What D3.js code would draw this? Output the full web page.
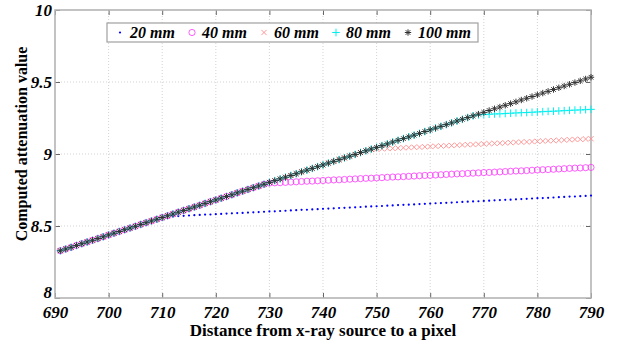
<!DOCTYPE html>
<html>
<head>
    <title>Computed attenuation value</title>
    <script src="https://d3js.org/d3.v7.min.js"></script>
    <style>
        body {
            margin: 0;
            background-color: #ffffff;
        }
        .axis-title {
            font-family: 'Liberation Serif', 'Times New Roman', serif;
            font-weight: bold;
            font-size: 17px;
            fill: #000;
        }
        .legend-text {
            font-family: 'Liberation Serif', 'Times New Roman', serif;
            font-weight: bold;
            font-style: italic;
            font-size: 16px;
            fill: #000;
        }
    </style>
</head>
<body>
    <div id="chart"></div>

    <script>
        // distance from x-ray source (pixel index)
        const distance = [
            691, 692, 693, 694, 695, 696, 697, 698, 699, 700,
            701, 702, 703, 704, 705, 706, 707, 708, 709, 710,
            711, 712, 713, 714, 715, 716, 717, 718, 719, 720,
            721, 722, 723, 724, 725, 726, 727, 728, 729, 730,
            731, 732, 733, 734, 735, 736, 737, 738, 739, 740,
            741, 742, 743, 744, 745, 746, 747, 748, 749, 750,
            751, 752, 753, 754, 755, 756, 757, 758, 759, 760,
            761, 762, 763, 764, 765, 766, 767, 768, 769, 770,
            771, 772, 773, 774, 775, 776, 777, 778, 779, 780,
            781, 782, 783, 784, 785, 786, 787, 788, 789, 790
        ];

        const mm20 = [
            8.328, 8.340, 8.352, 8.365, 8.377, 8.389, 8.401, 8.413, 8.425, 8.438,
            8.450, 8.462, 8.474, 8.486, 8.498, 8.511, 8.523, 8.535, 8.547, 8.559,
            8.566, 8.567, 8.569, 8.571, 8.573, 8.575, 8.577, 8.579, 8.580, 8.582,
            8.584, 8.586, 8.588, 8.590, 8.591, 8.593, 8.595, 8.597, 8.599, 8.601,
            8.602, 8.604, 8.606, 8.608, 8.610, 8.612, 8.613, 8.615, 8.617, 8.619,
            8.621, 8.623, 8.625, 8.626, 8.628, 8.630, 8.632, 8.634, 8.636, 8.637,
            8.639, 8.641, 8.643, 8.645, 8.647, 8.648, 8.650, 8.652, 8.654, 8.656,
            8.658, 8.659, 8.661, 8.663, 8.665, 8.667, 8.669, 8.671, 8.672, 8.674,
            8.676, 8.678, 8.680, 8.682, 8.683, 8.685, 8.687, 8.689, 8.691, 8.693,
            8.694, 8.696, 8.698, 8.700, 8.702, 8.704, 8.705, 8.707, 8.709, 8.711
        ];

        const mm40 = [
            8.328, 8.340, 8.352, 8.365, 8.377, 8.389, 8.401, 8.413, 8.425, 8.438,
            8.450, 8.462, 8.474, 8.486, 8.498, 8.511, 8.523, 8.535, 8.547, 8.559,
            8.571, 8.583, 8.596, 8.608, 8.620, 8.632, 8.644, 8.657, 8.669, 8.681,
            8.693, 8.705, 8.717, 8.730, 8.742, 8.754, 8.766, 8.778, 8.790, 8.798,
            8.800, 8.801, 8.803, 8.805, 8.807, 8.809, 8.811, 8.812, 8.814, 8.816,
            8.818, 8.820, 8.821, 8.823, 8.825, 8.827, 8.829, 8.831, 8.832, 8.834,
            8.836, 8.838, 8.840, 8.841, 8.843, 8.845, 8.847, 8.849, 8.851, 8.852,
            8.854, 8.856, 8.858, 8.860, 8.862, 8.863, 8.865, 8.867, 8.869, 8.871,
            8.872, 8.874, 8.876, 8.878, 8.880, 8.882, 8.883, 8.885, 8.887, 8.889,
            8.891, 8.892, 8.894, 8.896, 8.898, 8.900, 8.902, 8.903, 8.905, 8.907
        ];

        const mm60 = [
            8.328, 8.340, 8.352, 8.365, 8.377, 8.389, 8.401, 8.413, 8.425, 8.438,
            8.450, 8.462, 8.474, 8.486, 8.498, 8.511, 8.523, 8.535, 8.547, 8.559,
            8.571, 8.583, 8.596, 8.608, 8.620, 8.632, 8.644, 8.657, 8.669, 8.681,
            8.693, 8.705, 8.717, 8.730, 8.742, 8.754, 8.766, 8.778, 8.790, 8.803,
            8.815, 8.827, 8.839, 8.851, 8.863, 8.876, 8.888, 8.900, 8.912, 8.924,
            8.937, 8.949, 8.961, 8.973, 8.985, 8.997, 9.010, 9.022, 9.032, 9.034,
            9.036, 9.038, 9.039, 9.041, 9.043, 9.045, 9.047, 9.048, 9.050, 9.052,
            9.054, 9.056, 9.057, 9.059, 9.061, 9.063, 9.065, 9.066, 9.068, 9.070,
            9.072, 9.074, 9.075, 9.077, 9.079, 9.081, 9.083, 9.084, 9.086, 9.088,
            9.090, 9.092, 9.093, 9.095, 9.097, 9.099, 9.101, 9.102, 9.104, 9.106
        ];

        const mm80 = [
            8.328, 8.340, 8.352, 8.365, 8.377, 8.389, 8.401, 8.413, 8.425, 8.438,
            8.450, 8.462, 8.474, 8.486, 8.498, 8.511, 8.523, 8.535, 8.547, 8.559,
            8.571, 8.583, 8.596, 8.608, 8.620, 8.632, 8.644, 8.657, 8.669, 8.681,
            8.693, 8.705, 8.717, 8.730, 8.742, 8.754, 8.766, 8.778, 8.790, 8.803,
            8.815, 8.827, 8.839, 8.851, 8.863, 8.876, 8.888, 8.900, 8.912, 8.924,
            8.937, 8.949, 8.961, 8.973, 8.985, 8.997, 9.010, 9.022, 9.034, 9.046,
            9.058, 9.070, 9.083, 9.095, 9.107, 9.119, 9.131, 9.143, 9.156, 9.168,
            9.180, 9.192, 9.204, 9.216, 9.229, 9.241, 9.253, 9.265, 9.272, 9.274,
            9.276, 9.278, 9.279, 9.281, 9.283, 9.285, 9.287, 9.288, 9.290, 9.292,
            9.294, 9.296, 9.297, 9.299, 9.301, 9.303, 9.305, 9.306, 9.308, 9.310
        ];

        const mm100 = [
            8.328, 8.340, 8.352, 8.365, 8.377, 8.389, 8.401, 8.413, 8.425, 8.438,
            8.450, 8.462, 8.474, 8.486, 8.498, 8.511, 8.523, 8.535, 8.547, 8.559,
            8.571, 8.583, 8.596, 8.608, 8.620, 8.632, 8.644, 8.657, 8.669, 8.681,
            8.693, 8.705, 8.717, 8.730, 8.742, 8.754, 8.766, 8.778, 8.790, 8.803,
            8.815, 8.827, 8.839, 8.851, 8.863, 8.876, 8.888, 8.900, 8.912, 8.924,
            8.937, 8.949, 8.961, 8.973, 8.985, 8.997, 9.010, 9.022, 9.034, 9.046,
            9.058, 9.070, 9.083, 9.095, 9.107, 9.119, 9.131, 9.143, 9.156, 9.168,
            9.180, 9.192, 9.204, 9.216, 9.229, 9.241, 9.253, 9.265, 9.277, 9.289,
            9.302, 9.314, 9.326, 9.338, 9.350, 9.362, 9.375, 9.387, 9.399, 9.411,
            9.423, 9.435, 9.448, 9.460, 9.472, 9.484, 9.496, 9.508, 9.521, 9.533
        ];

        const seriesNames = ["20 mm", "40 mm", "60 mm", "80 mm", "100 mm"];
        const xTicks = [690, 700, 710, 720, 730, 740, 750, 760, 770, 780, 790];
        const yTicks = [8, 8.5, 9, 9.5, 10];

        const xTitle = "Distance from x-ray source to a pixel";
        const yTitle = "Computed attenuation value";

        // marker shapes, drawn around (0,0)
        const markers = {
            dot:    {path: "M-1.1,0a1.1,1.1 0 1,0 2.2,0a1.1,1.1 0 1,0 -2.2,0", fill: "#0000ff", stroke: "none", width: 0},
            circle: {path: "M-3.1,0a3.1,3.1 0 1,0 6.2,0a3.1,3.1 0 1,0 -6.2,0", fill: "none", stroke: "#ff33ff", width: 0.8},
            cross:  {path: "M-2.6,-2.6L2.6,2.6M-2.6,2.6L2.6,-2.6", fill: "none", stroke: "#ff8c8c", width: 0.9},
            plus:   {path: "M-3.8,0H3.8M0,-3.8V3.8", fill: "none", stroke: "#00f0f0", width: 1},
            star:   {path: "M-3.2,0H3.2M0,-3.2V3.2M-2.3,-2.3L2.3,2.3M-2.3,2.3L2.3,-2.3", fill: "none", stroke: "#333333", width: 1}
        };

        const series = [
            {name: seriesNames[0], values: mm20, marker: markers.dot},
            {name: seriesNames[1], values: mm40, marker: markers.circle},
            {name: seriesNames[2], values: mm60, marker: markers.cross},
            {name: seriesNames[3], values: mm80, marker: markers.plus},
            {name: seriesNames[4], values: mm100, marker: markers.star}
        ];

        const margin = {top: 10, right: 31, bottom: 45, left: 55},
            width = 622 - margin.left - margin.right,
            height = 343 - margin.top - margin.bottom;

        const root = d3.select("#chart")
            .append("svg")
                .attr("width", 622)
                .attr("height", 343);

        const svg = root.append("g")
            .attr("transform", "translate(" + margin.left + "," + margin.top + ")");

        const x = d3.scaleLinear()
            .domain([690, 790])
            .range([0, width]);

        const y = d3.scaleLinear()
            .domain([8, 10])
            .range([height, 0]);

        // dotted grid
        svg.append("g").selectAll("line")
            .data(xTicks.slice(1, -1))
            .enter().append("line")
                .attr("x1", d => x(d)).attr("x2", d => x(d))
                .attr("y1", 0).attr("y2", height)
                .attr("stroke", "#c8c8c8")
                .attr("stroke-width", 0.8)
                .attr("stroke-dasharray", "1,2");

        svg.append("g").selectAll("line")
            .data(yTicks.slice(1, -1))
            .enter().append("line")
                .attr("x1", 0).attr("x2", width)
                .attr("y1", d => y(d)).attr("y2", d => y(d))
                .attr("stroke", "#c8c8c8")
                .attr("stroke-width", 0.8)
                .attr("stroke-dasharray", "1,2");

        // axes: labels + inward ticks
        const xAxis = svg.append("g")
            .attr("transform", "translate(0," + height + ")")
            .call(d3.axisBottom(x).tickValues(xTicks).tickSizeInner(-5).tickSizeOuter(0).tickPadding(8).tickFormat(d => d));

        const yAxis = svg.append("g")
            .call(d3.axisLeft(y).tickValues(yTicks).tickSizeInner(-5).tickSizeOuter(0).tickPadding(3).tickFormat(d => d));

        svg.append("g")
            .call(d3.axisTop(x).tickValues(xTicks).tickSizeInner(-5).tickSizeOuter(0).tickFormat(""));

        svg.append("g")
            .attr("transform", "translate(" + width + ",0)")
            .call(d3.axisRight(y).tickValues(yTicks).tickSizeInner(-5).tickSizeOuter(0).tickFormat(""));

        svg.selectAll(".domain").remove();
        svg.selectAll(".tick line").attr("stroke", "#666666");

        [xAxis, yAxis].forEach(function(ax) {
            ax.attr("font-family", null).attr("font-size", null);
            ax.selectAll("text")
                .style("font-family", "'Liberation Serif', 'Times New Roman', serif")
                .style("font-weight", "bold")
                .style("font-style", "italic")
                .style("font-size", "17px")
                .style("fill", "#000");
        });

        // the "8" label sits just above the "690" label, as in the original
        yAxis.selectAll(".tick text").filter(d => d === 8).attr("dy", "-0.02em");

        // box
        svg.append("rect")
            .attr("x", 0).attr("y", 0)
            .attr("width", width).attr("height", height)
            .attr("fill", "none")
            .attr("stroke", "#b4b4b4")
            .attr("stroke-width", 1.6);

        // markers
        series.forEach(function(s) {
            svg.append("g").selectAll("path")
                .data(s.values)
                .enter().append("path")
                    .attr("transform", (d, i) => "translate(" + x(distance[i]) + "," + y(d) + ")")
                    .attr("d", s.marker.path)
                    .attr("fill", s.marker.fill)
                    .attr("stroke", s.marker.stroke)
                    .attr("stroke-width", s.marker.width);
        });

        // legend
        const legend = svg.append("g")
            .attr("transform", "translate(52,13)");

        legend.append("rect")
            .attr("x", 0).attr("y", 0)
            .attr("width", 371).attr("height", 19)
            .attr("fill", "#ffffff")
            .attr("stroke", "#a0a0a0")
            .attr("stroke-width", 1.2);

        series.forEach(function(s, i) {
            const item = legend.append("g")
                .attr("transform", "translate(" + (13 + i * 72) + ",9.5)");
            item.append("path")
                .attr("d", s.marker.path)
                .attr("fill", s.marker.fill)
                .attr("stroke", s.marker.stroke)
                .attr("stroke-width", s.marker.width);
            item.append("text")
                .attr("class", "legend-text")
                .attr("x", 10)
                .attr("y", 5.5)
                .text(s.name);
        });

        // titles
        root.append("text")
            .attr("class", "axis-title")
            .attr("x", margin.left + width / 2)
            .attr("y", 336)
            .attr("text-anchor", "middle")
            .text(xTitle);

        root.append("text")
            .attr("class", "axis-title")
            .attr("transform", "translate(27,144) rotate(-90)")
            .attr("text-anchor", "middle")
            .style("font-size", "16px")
            .text(yTitle);
    </script>
</body>
</html>
